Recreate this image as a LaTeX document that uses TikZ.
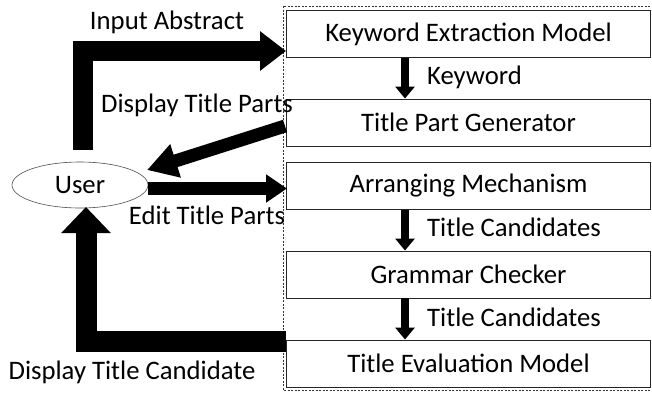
\documentclass[tikz,border=0pt]{standalone}
\usepackage{fontspec}
\setmainfont{Carlito}
\usetikzlibrary{arrows.meta,calc,shapes.geometric}
\begin{document}
\begin{tikzpicture}[x=1pt,y=-1pt,
  every node/.style={font=\fontsize{26.7}{30}\selectfont, inner sep=0pt},
  modbox/.style={draw=black!85, line width=0.9pt, minimum width=364pt, minimum height=47pt},
  bigarrow/.style={line width=#1, line join=miter, line cap=butt},
  smallarrow/.style={line width=8pt, -{Triangle[length=12pt,width=19pt]}}
]
\useasboundingbox (0,0) rectangle (652,397);
% dashed frame
\draw[dash pattern=on 2pt off 1.5pt, line width=0.6pt, black!80] (283,6) rectangle (660,390);
% modules
\node[modbox] (kem) at (468.5,34) {Keyword Extraction Model};
\node[modbox] (tpg) at (468.5,122.5) {Title Part Generator};
\node[modbox] (arr) at (468.5,186) {Arranging Mechanism};
\node[modbox] (gc)  at (468.5,274.5) {Grammar Checker};
\node[modbox] (tem) at (468.5,363.5) {Title Evaluation Model};
% user
\node[draw=black!70, line width=0.6pt, ellipse, minimum width=136pt, minimum height=46pt] (user) at (80,185) {User};
% small arrows
\draw[smallarrow] (kem.south -| 405,0) -- (tpg.north -| 405,0);
\draw[smallarrow] (arr.south -| 405,0) -- (gc.north -| 405,0);
\draw[smallarrow] (gc.south -| 405,0) -- (tem.north -| 405,0);
\node[anchor=west] (kw) at (427,77) {Keyword};
\node[anchor=west] (tc1) at (427,227) {Title Candidates};
\node[anchor=west] (tc2) at (427,317) {Title Candidates};
% big arrows
\coordinate (iaS) at (83,150);
\coordinate (iaE) at (286,51);
\draw[bigarrow=20pt, -{Triangle[length=26pt,width=38pt]}] (iaS) |- (iaE);
\node (ia) at (167,22) {Input Abstract};

\coordinate (dpS) at (285,126);
\coordinate (dpE) at (147,170);
\draw[bigarrow=13pt, -{Triangle[length=30pt,width=33pt]}] (dpS) -- (dpE);
\node (dp) at (197,105) {Display Title Parts};

\coordinate (epS) at (148,188.5);
\coordinate (epE) at (287,188.5);
\draw[bigarrow=13pt, -{Triangle[length=21pt,width=27pt]}] (epS) -- (epE);
\node (ep) at (207,215) {Edit Title Parts};

\coordinate (dcS) at (286,341);
\coordinate (dcE) at (86,207);
\draw[bigarrow=21pt, -{Triangle[length=26pt,width=48pt]}] (dcS) -| (dcE);
\node (dc) at (132,372) {Display Title Candidate};
\end{tikzpicture}
\end{document}
